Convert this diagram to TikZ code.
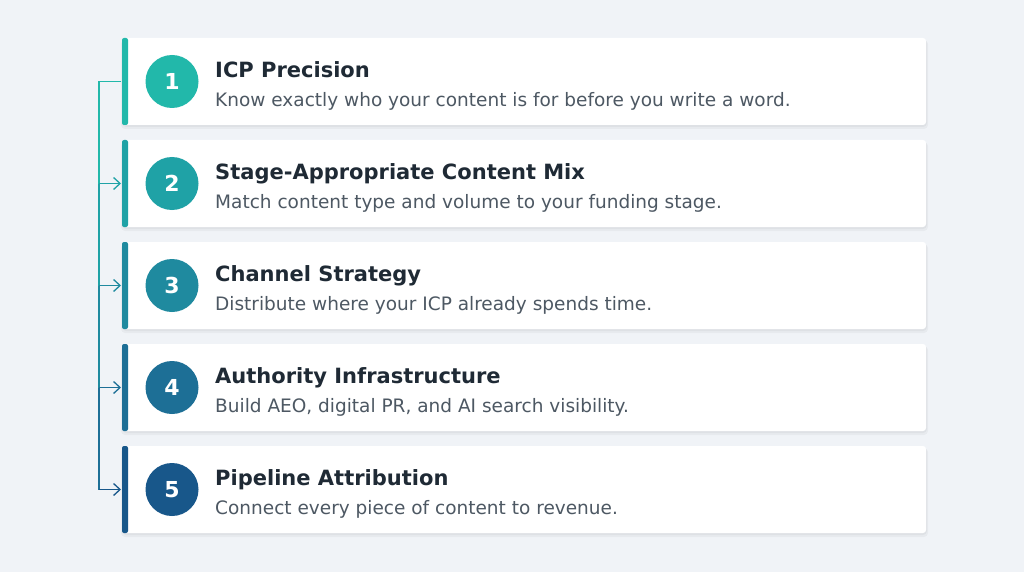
\documentclass[tikz,border=0pt]{standalone}
\usepackage{fontspec}
\setmainfont{DejaVu Sans}
\usetikzlibrary{arrows.meta}
\definecolor{bg}{HTML}{F0F3F7}
\definecolor{titlec}{HTML}{1F2A35}
\definecolor{subc}{HTML}{4D5863}
\definecolor{cA}{HTML}{22B8AA}
\definecolor{cB}{HTML}{1FA2A6}
\definecolor{cC}{HTML}{1F8A9F}
\definecolor{cD}{HTML}{1D6F96}
\definecolor{cE}{HTML}{18578A}
\tikzset{
  card/.style={fill=white, rounded corners=3pt},
  shadowbox/.style={fill=black, opacity=0.035, rounded corners=4pt},
  accent/.style={rounded corners=2pt},
  numc/.style={circle, minimum size=53pt, inner sep=0pt, text=white, font=\fontsize{22}{22}\selectfont\bfseries},
  ttl/.style={anchor=base west, text=titlec, font=\fontsize{21}{21}\selectfont\bfseries, inner sep=0pt},
  sub/.style={anchor=base west, text=subc, font=\fontsize{18.5}{18.5}\selectfont, inner sep=0pt},
  conn/.style={line width=1.2pt},
  arr/.style={conn, -{Straight Barb[length=6.5pt,width=12pt,line width=1.3pt]}}
}
\begin{document}
\begin{tikzpicture}[x=1pt,y=-1pt]
\fill[bg] (0,0) rectangle (1024,572);
\useasboundingbox (0,0) rectangle (1024,572);
\foreach \i/\col/\t/\s in {
 1/cA/{ICP Precision}/{Know exactly who your content is for before you write a word.},
 2/cB/{Stage-Appropriate Content Mix}/{Match content type and volume to your funding stage.},
 3/cC/{Channel Strategy}/{Distribute where your ICP already spends time.},
 4/cD/{Authority Infrastructure}/{Build AEO, digital PR, and AI search visibility.},
 5/cE/{Pipeline Attribution}/{Connect every piece of content to revenue.}}{
  \pgfmathsetmacro{\top}{38+102*(\i-1)}
  \pgfmathsetmacro{\bot}{\top+87}
  \pgfmathsetmacro{\mid}{\top+43.5}
  \fill[shadowbox] (121,\top+2) rectangle (928,\bot+4);
  \fill[shadowbox] (122,\top+1) rectangle (927,\bot+2);
  \fill[card] (122,\top) rectangle (926,\bot);
  \fill[\col, accent] (122,\top) rectangle (128,\bot);
  \node[numc, fill=\col] (n\i) at (172,\mid) {\i};
  \node[ttl] (t\i) at (215,\mid-4) {\t};
  \node[sub] (s\i) at (215,\mid+25) {\s};
  \coordinate (e\i) at (121,\mid);
  \coordinate (v\i) at (99,\mid);
}
\draw[conn, cA] (e1) -- (v1) -- (v2);
\draw[conn, cB] (v2) -- (v3);
\draw[conn, cC] (v3) -- (v4);
\draw[conn, cD] (v4) -- (v5);
\draw[arr, cB] (v2) -- (e2);
\draw[arr, cC] (v3) -- (e3);
\draw[arr, cD] (v4) -- (e4);
\draw[arr, cE] (v5) -- (e5);
\end{tikzpicture}
\end{document}
